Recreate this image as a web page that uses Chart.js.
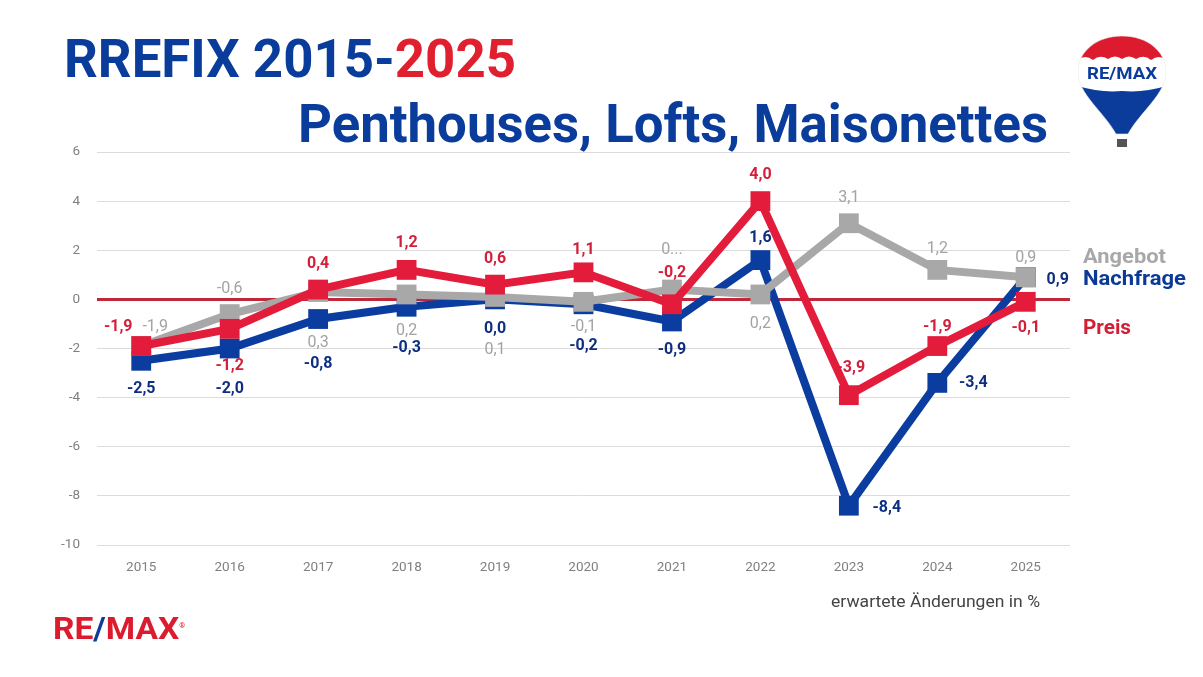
<!DOCTYPE html>
<html>
<head>
<meta charset="utf-8">
<script src="https://cdn.jsdelivr.net/npm/chart.js@4/dist/chart.umd.min.js"></script>
<style>
  html, body { margin:0; padding:0; background:#fff; }
  #wrap { position:relative; width:1203px; height:677px; overflow:hidden; font-family:Roboto, "Noto Sans", sans-serif; }
  #c { position:absolute; left:0; top:0; }
  .fit { position:absolute; white-space:nowrap; transform-origin:0 0; }
  .title { font-weight:700; font-size:53px; line-height:53px; color:#0a3d9b; }
  .leg { font-weight:700; font-size:21px; line-height:21px; }
</style>
</head>
<body>
<div id="wrap">
  <canvas id="c" width="1203" height="677"></canvas>
  <div class="fit title" data-w="452" style="left:64px; top:33px;">RREFIX 2015-<span style="color:#e0202f">2025</span></div>
  <div class="fit title" data-w="750" style="left:298px; top:98px;">Penthouses, Lofts, Maisonettes</div>
  <div class="fit leg" data-w="83" style="left:1083px; top:246px; color:#a8a8a8;">Angebot</div>
  <div class="fit leg" data-w="103" style="left:1083px; top:268px; color:#0a3a96;">Nachfrage</div>
  <div class="fit leg" data-w="48" style="left:1083px; top:317px; color:#d21f36;">Preis</div>
  <div class="fit" data-w="209" style="left:831px; top:594px; font-size:16px; line-height:16px; color:#444;">erwartete Änderungen in %</div>
  <div class="fit" data-w="132" style="left:53px; top:612px; font-size:32px; line-height:32px; font-weight:700; color:#dc1c2e;">RE<span style="color:#0b3c9c">/</span>MAX<sup style="font-size:7px; vertical-align:top; position:relative; top:-2px;">®</sup></div>
  <svg style="position:absolute; left:1078px; top:36px;" width="88" height="114" viewBox="0 0 88 114">
    <defs>
      <clipPath id="bal">
        <path d="M44,0 C69,0 88,15 88,36 C88,58 62,76 50,98 L38,98 C26,76 0,58 0,36 C0,15 19,0 44,0 Z"/>
      </clipPath>
    </defs>
    <g clip-path="url(#bal)">
      <rect x="0" y="0" width="88" height="100" fill="#ffffff"/>
      <path d="M0,0 H88 V24 Q81,18 73,24 Q66,18 58,23 Q51,18 44,23 Q37,18 30,23 Q22,18 15,24 Q7,18 0,24 Z" fill="#dc1c2e"/>
      <path d="M0,50 Q22,57 44,55 Q66,57 88,50 V100 H0 Z" fill="#0b3c9c"/>
    </g>
    <path d="M44,0 C69,0 88,15 88,36 C88,58 62,76 50,98 L38,98 C26,76 0,58 0,36 C0,15 19,0 44,0 Z" fill="none" stroke="#e8e8e8" stroke-width="0.6"/>
    <text x="44" y="43" text-anchor="middle" font-family="Roboto, sans-serif" font-weight="700" font-size="16" fill="#0b3c9c" textLength="70" lengthAdjust="spacingAndGlyphs">RE/MAX</text>
    <rect x="39" y="103" width="10" height="8" fill="#555"/>
  </svg>
</div>
<script>
// ---- data ----
const categories = ['2015','2016','2017','2018','2019','2020','2021','2022','2023','2024','2025'];
const angebot   = [-1.9, -0.6, 0.3, 0.2, 0.1, -0.1, 0.4, 0.2, 3.1, 1.2, 0.9];
const nachfrage = [-2.5, -2.0, -0.8, -0.3, 0.0, -0.2, -0.9, 1.6, -8.4, -3.4, 0.9];
const preis     = [-1.9, -1.2, 0.4, 1.2, 0.6, 1.1, -0.2, 4.0, -3.9, -1.9, -0.1];
const yTicks = { min: -10, max: 6, step: 2 };
// label text overrides (truncated label in original)
const angebotLabelText = {6: '0...'};

// label placement offsets (pixels relative to point)
const placePreis = [[-23,-19],[0,37],[0,-26],[0,-27],[0,-26],[0,-22],[0,-31],[0,-26],[2,-27],[0,-19],[0,26]];
const placeNach  = [[0,28],[0,40],[0,45],[0,41],[0,30],[0,42],[0,29],[0,-22],[38,2],[36,0],[32,3]];
const placeAng   = [[14,-19],[0,-25],[0,51],[0,37],[0,53],[0,25],[0,-40],[0,30],[0,-25],[0,-21],[0,-19]];

const fmt = v => v.toFixed(1).replace('.', ',');

const labelPlugin = {
  id: 'pointLabels',
  afterDatasetsDraw(chart) {
    const ctx = chart.ctx;
    chart.data.datasets.forEach((ds, i) => {
      const meta = chart.getDatasetMeta(i);
      ctx.save();
      ctx.font = (ds._lblWeight || '700') + ' 16px Roboto, sans-serif';
      ctx.fillStyle = ds._lblColor;
      ctx.textAlign = 'center';
      ctx.textBaseline = 'middle';
      meta.data.forEach((pt, j) => {
        const off = ds._place[j];
        const txt = (ds._override && ds._override[j]) || fmt(ds.data[j]);
        ctx.fillText(txt, pt.x + off[0], pt.y + off[1]);
      });
      ctx.restore();
    });
  }
};

const common = { borderWidth: 8, pointStyle: 'rect', pointRadius: 14, pointBorderWidth: 0, pointHoverRadius: 14, tension: 0, fill: false };

new Chart(document.getElementById('c'), {
  type: 'line',
  data: {
    labels: categories,
    datasets: [
      Object.assign({ label: 'Preis', data: preis, borderColor: '#e31c3c', backgroundColor: '#e31c3c', pointBackgroundColor: '#e31c3c',
        _lblColor: '#d21f3a', _place: placePreis }, common),
      Object.assign({ label: 'Angebot', data: angebot, borderColor: '#a8a8a8', backgroundColor: '#a8a8a8', pointBackgroundColor: '#a8a8a8',
        _lblColor: '#a3a3a3', _lblWeight: '400', _place: placeAng, _override: angebotLabelText }, common),
      Object.assign({ label: 'Nachfrage', data: nachfrage, borderColor: '#0b3da0', backgroundColor: '#0b3da0', pointBackgroundColor: '#0b3da0',
        _lblColor: '#0e2f80', _place: placeNach }, common)
    ]
  },
  options: {
    responsive: false,
    animation: false,
    devicePixelRatio: 1,
    layout: { padding: { left: 57, right: 133, top: 152, bottom: 92 } },
    plugins: { legend: { display: false }, tooltip: { enabled: false } },
    scales: {
      x: {
        offset: true,
        grid: { display: false },
        border: { display: false },
        ticks: { color: '#808080', font: { family: 'Roboto', size: 13.5 }, padding: 7, maxRotation: 0 },
        afterFit(s) { s.height = 40; }
      },
      y: {
        min: yTicks.min, max: yTicks.max,
        border: { display: false },
        grid: {
          drawTicks: false,
          color: c => c.tick && c.tick.value === 0 ? '#c0283a' : '#dcdcdc',
          lineWidth: c => c.tick && c.tick.value === 0 ? 3 : 1
        },
        ticks: { stepSize: yTicks.step, color: '#808080', font: { family: 'Roboto', size: 13.5 }, padding: 17 },
        afterFit(s) { s.width = 40; }
      }
    }
  },
  plugins: [labelPlugin]
});

// fit overlay texts to measured widths
document.querySelectorAll('.fit').forEach(el => {
  const w = el.getBoundingClientRect().width;
  const target = parseFloat(el.dataset.w);
  if (w > 0) el.style.transform = 'scaleX(' + (target / w) + ')';
});
</script>
</body>
</html>
